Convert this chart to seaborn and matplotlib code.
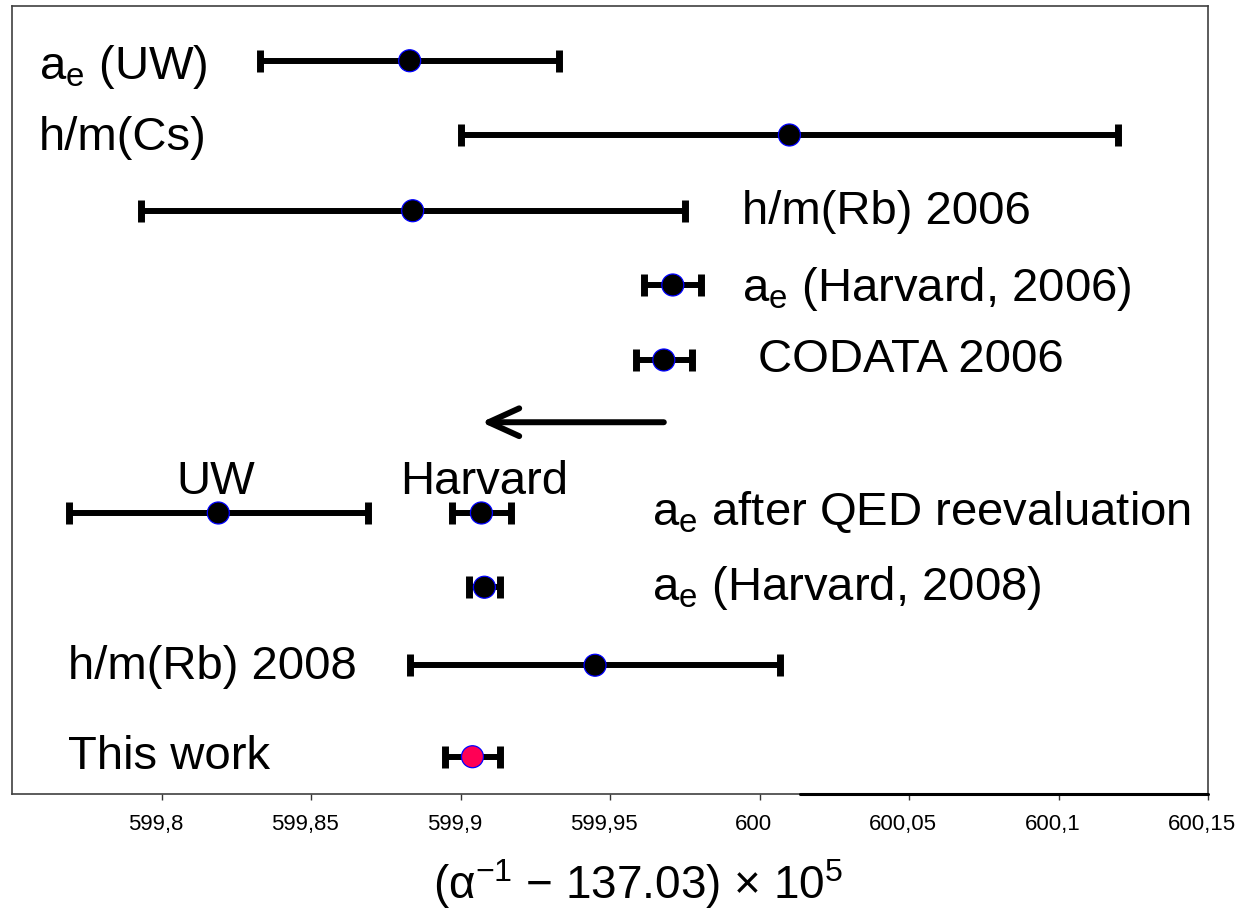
import numpy as np
import pandas as pd
import seaborn as sns
import matplotlib.pyplot as plt
from matplotlib.ticker import FixedLocator, FixedFormatter
from matplotlib.transforms import ScaledTranslation

# (alpha^-1 - 137.03) x 10^5
names = ["ae (UW)", "h/m(Cs)", "h/m(Rb) 2006", "ae (Harvard, 2006)", "CODATA 2006",
         "UW after QED", "Harvard after QED", "ae (Harvard, 2008)", "h/m(Rb) 2008", "This work"]
values = [599.883, 600.010, 599.884, 599.971, 599.968,
          599.819, 599.907, 599.908, 599.945, 599.904]
errors = [0.050, 0.110, 0.091, 0.0096, 0.0094,
          0.050, 0.0098, 0.0051, 0.062, 0.0091]
groups = ["other"] * 9 + ["this work"]

tick_values = [599.8, 599.85, 599.9, 599.95, 600.0, 600.05, 600.1, 600.15]
tick_labels = ["599,8", "599,85", "599,9", "599,95", "600", "600,05", "600,1", "600,15"]

# arrow: CODATA 2006 -> a_e after QED reevaluation
shift_from = 599.968
shift_to = 599.907

# layout (row positions, top to bottom)
rows = [0.73, 1.72, 2.73, 3.72, 4.72, 6.76, 6.76, 7.75, 8.79, 10.01]
arrow_row = 5.55

df = pd.DataFrame({"name": names, "value": values, "error": errors,
                   "group": groups, "row": rows})

sns.set_theme(style="white")
plt.rcParams["font.family"] = ["Liberation Sans", "DejaVu Sans"]
plt.rcParams["mathtext.fontset"] = "custom"
plt.rcParams["mathtext.rm"] = "Liberation Sans"
plt.rcParams["mathtext.it"] = "Liberation Sans:italic"
plt.rcParams["text.color"] = "black"
plt.rcParams["xtick.color"] = "black"

fig = plt.figure(figsize=(12.43, 9.13), dpi=100)
ax = fig.add_axes([12 / 1243, 1 - 794 / 913, 1196 / 1243, 788 / 913])

ax.errorbar(df["value"], df["row"], xerr=df["error"], fmt="none", ecolor="black",
            elinewidth=4.3, capsize=8, capthick=5, zorder=2)
sns.scatterplot(data=df, x="value", y="row", hue="group",
                palette={"other": "black", "this work": "#ff0055"},
                s=250, edgecolor="#0000ff", linewidth=0.9, legend=False,
                zorder=3, ax=ax)

ax.annotate("", xy=(shift_to, arrow_row), xytext=(shift_from, arrow_row),
            arrowprops=dict(arrowstyle="->,head_length=1.1,head_width=0.5",
                            lw=4.3, color="black", shrinkA=0, shrinkB=0,
                            mutation_scale=20))

ax.set_xlim(599.75, 600.15)
ax.set_ylim(10.507, 0)
ax.set_yticks([])
ax.set_xlabel("")
ax.set_ylabel("")
ax.xaxis.set_major_locator(FixedLocator(tick_values))
ax.xaxis.set_major_formatter(FixedFormatter(tick_labels))
ax.tick_params(axis="x", bottom=True, direction="out", length=4.5, width=1,
               color="#333333", labelsize=16, labelcolor="black", pad=10)
shift = ScaledTranslation(-6 / 100, 0, fig.dpi_scale_trans)
for t in ax.get_xticklabels():
    t.set_transform(t.get_transform() + shift)
for sp in ax.spines.values():
    sp.set_visible(True)
    sp.set_color("#404040")
    sp.set_linewidth(1.2)
# slightly heavier piece of the bottom frame line
ax.plot([600.0135, 600.15], [10.507, 10.507], color="black", lw=2.2,
        clip_on=False, zorder=4)

lab = dict(fontsize=34, va="baseline", color="black")
off = 0.227
ax.text(599.759, 0.75 + off, r"a$_{\rm e}$ (UW)", **lab)
ax.text(599.759, 1.69 + off, "h/m(Cs)", **lab)
ax.text(599.994, 2.68 + off, "h/m(Rb) 2006", **lab)
ax.text(599.994, 3.70 + off, r"a$_{\rm e}$ (Harvard, 2006)", **lab)
ax.text(599.9995, 4.65 + off, "CODATA 2006", **lab)
ax.text(599.818, 6.28 + off, "UW", ha="center", **lab)
ax.text(599.908, 6.28 + off, "Harvard", ha="center", **lab)
ax.text(599.964, 6.69 + off, r"a$_{\rm e}$ after QED reevaluation", **lab)
ax.text(599.964, 7.69 + off, r"a$_{\rm e}$ (Harvard, 2008)", **lab)
ax.text(599.7686, 8.75 + off, "h/m(Rb) 2008", **lab)
ax.text(599.7686, 9.95 + off, "This work", **lab)

fig.text(638 / 1243, 14 / 913, "(α$^{-1}$ $-$ 137.03) × 10$^{5}$",
         fontsize=33, ha="center", va="baseline", color="black")

fig.savefig("out.png", dpi=100)
